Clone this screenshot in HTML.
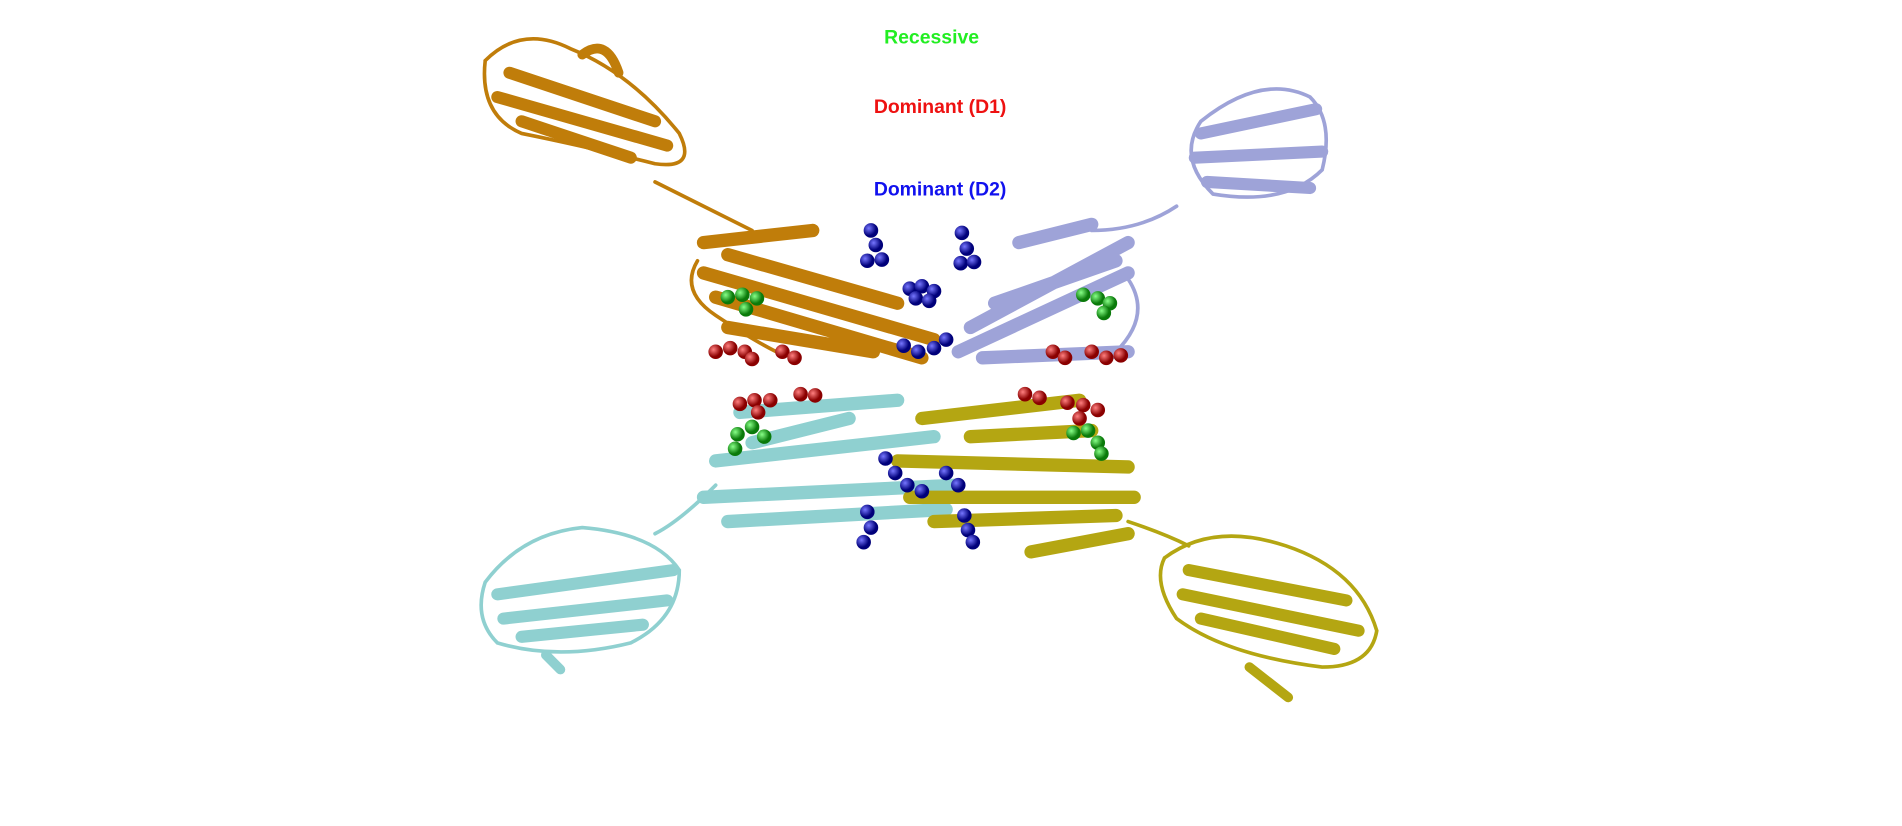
<!DOCTYPE html>
<html><head><meta charset="utf-8"><style>
html,body{margin:0;padding:0;background:#fff;width:1902px;height:826px;overflow:hidden}
svg{position:absolute;left:0;top:0}
.l{font-family:"Liberation Sans",sans-serif;font-weight:bold;font-size:16px}
</style></head><body>
<svg width="1902" height="826" viewBox="0 0 1568 681" preserveAspectRatio="none">
<defs>
<radialGradient id="r" cx="35%" cy="35%"><stop offset="0" stop-color="#ff8080"/><stop offset="1" stop-color="#8a0000"/></radialGradient>
<radialGradient id="g" cx="35%" cy="35%"><stop offset="0" stop-color="#8f8"/><stop offset="1" stop-color="#0a7a0a"/></radialGradient>
<radialGradient id="b" cx="35%" cy="35%"><stop offset="0" stop-color="#77f"/><stop offset="1" stop-color="#00007a"/></radialGradient>
</defs>
<text class="l" x="768" y="36" fill="#22ee22" text-anchor="middle">Recessive</text>
<text class="l" x="775" y="93" fill="#ee1111" text-anchor="middle">Dominant (D1)</text>
<text class="l" x="775" y="161" fill="#1111ee" text-anchor="middle">Dominant (D2)</text>

<g fill="none" stroke="#c07d0a" stroke-linecap="round">
<path d="M400 50 Q430 20 470 40 Q520 60 560 110 Q575 140 540 135 Q480 120 430 110 Q395 95 400 50" stroke-width="3"/>
<path d="M410 80 L550 120 M420 60 L540 100 M430 100 L520 130" stroke-width="10"/>
<path d="M480 45 Q500 30 510 60" stroke-width="8"/>
<path d="M540 150 Q580 170 620 190" stroke-width="3"/>
<path d="M580 200 L670 190 M580 225 L770 280 M590 245 L760 295 M600 210 L740 250 M600 270 L720 290" stroke-width="11"/>
<path d="M575 215 Q560 240 590 260 Q620 280 640 290" stroke-width="3"/>
</g>
<g fill="none" stroke="#9ea3d8" stroke-linecap="round">
<path d="M990 100 Q1040 60 1080 80 Q1100 100 1090 140 Q1060 170 1000 160 Q970 130 990 100" stroke-width="3"/>
<path d="M990 110 L1085 90 M985 130 L1090 125 M995 150 L1080 155" stroke-width="10"/>
<path d="M970 170 Q940 190 900 190" stroke-width="3"/>
<path d="M800 270 L930 200 M790 290 L930 225 M820 250 L920 215 M810 295 L930 290 M840 200 L900 185" stroke-width="11"/>
<path d="M930 230 Q950 260 920 290" stroke-width="3"/>
</g>
<g fill="none" stroke="#8fd0d0" stroke-linecap="round">
<path d="M610 340 L740 330 M590 380 L770 360 M580 410 L790 400 M600 430 L780 420 M620 365 L700 345" stroke-width="11"/>
<path d="M590 400 Q560 430 540 440" stroke-width="3"/>
<path d="M400 480 Q430 440 480 435 Q540 440 560 470 Q560 510 520 530 Q460 545 410 530 Q390 510 400 480" stroke-width="3"/>
<path d="M410 490 L555 470 M415 510 L550 495 M430 525 L530 515" stroke-width="10"/>
<path d="M450 540 L462 552" stroke-width="8"/>
</g>
<g fill="none" stroke="#b4a612" stroke-linecap="round">
<path d="M760 345 L890 330 M740 380 L930 385 M750 410 L935 410 M770 430 L920 425 M850 455 L930 440 M800 360 L900 355" stroke-width="11"/>
<path d="M930 430 Q960 440 980 450" stroke-width="3"/>
<path d="M960 460 Q1000 430 1060 450 Q1120 470 1135 520 Q1130 550 1090 550 Q1010 540 970 510 Q950 480 960 460" stroke-width="3"/>
<path d="M980 470 L1110 495 M975 490 L1120 520 M990 510 L1100 535" stroke-width="10"/>
<path d="M1030 550 L1062 575" stroke-width="8"/>
</g>
<g>
<g fill="url(#b)">
<circle cx="718" cy="190" r="6"/><circle cx="722" cy="202" r="6"/><circle cx="715" cy="215" r="6"/><circle cx="727" cy="214" r="6"/>
<circle cx="793" cy="192" r="6"/><circle cx="797" cy="205" r="6"/><circle cx="792" cy="217" r="6"/><circle cx="803" cy="216" r="6"/>
<circle cx="750" cy="238" r="6"/><circle cx="760" cy="236" r="6"/><circle cx="770" cy="240" r="6"/><circle cx="755" cy="246" r="6"/><circle cx="766" cy="248" r="6"/>
<circle cx="745" cy="285" r="6"/><circle cx="757" cy="290" r="6"/><circle cx="770" cy="287" r="6"/><circle cx="780" cy="280" r="6"/>
<circle cx="730" cy="378" r="6"/><circle cx="738" cy="390" r="6"/><circle cx="748" cy="400" r="6"/><circle cx="760" cy="405" r="6"/><circle cx="780" cy="390" r="6"/><circle cx="790" cy="400" r="6"/>
<circle cx="715" cy="422" r="6"/><circle cx="718" cy="435" r="6"/><circle cx="712" cy="447" r="6"/>
<circle cx="795" cy="425" r="6"/><circle cx="798" cy="437" r="6"/><circle cx="802" cy="447" r="6"/>
</g>
<g fill="url(#g)">
<circle cx="600" cy="245" r="6"/><circle cx="612" cy="243" r="6"/><circle cx="624" cy="246" r="6"/><circle cx="615" cy="255" r="6"/>
<circle cx="893" cy="243" r="6"/><circle cx="905" cy="246" r="6"/><circle cx="915" cy="250" r="6"/><circle cx="910" cy="258" r="6"/>
<circle cx="608" cy="358" r="6"/><circle cx="620" cy="352" r="6"/><circle cx="630" cy="360" r="6"/><circle cx="606" cy="370" r="6"/>
<circle cx="885" cy="357" r="6"/><circle cx="897" cy="355" r="6"/><circle cx="905" cy="365" r="6"/><circle cx="908" cy="374" r="6"/>
</g>
<g fill="url(#r)">
<circle cx="590" cy="290" r="6"/><circle cx="602" cy="287" r="6"/><circle cx="614" cy="290" r="6"/><circle cx="620" cy="296" r="6"/><circle cx="645" cy="290" r="6"/><circle cx="655" cy="295" r="6"/>
<circle cx="868" cy="290" r="6"/><circle cx="878" cy="295" r="6"/><circle cx="900" cy="290" r="6"/><circle cx="912" cy="295" r="6"/><circle cx="924" cy="293" r="6"/>
<circle cx="610" cy="333" r="6"/><circle cx="622" cy="330" r="6"/><circle cx="635" cy="330" r="6"/><circle cx="660" cy="325" r="6"/><circle cx="672" cy="326" r="6"/><circle cx="625" cy="340" r="6"/>
<circle cx="845" cy="325" r="6"/><circle cx="857" cy="328" r="6"/><circle cx="880" cy="332" r="6"/><circle cx="893" cy="334" r="6"/><circle cx="905" cy="338" r="6"/><circle cx="890" cy="345" r="6"/>
</g>
</g>
</svg>
</body></html>
